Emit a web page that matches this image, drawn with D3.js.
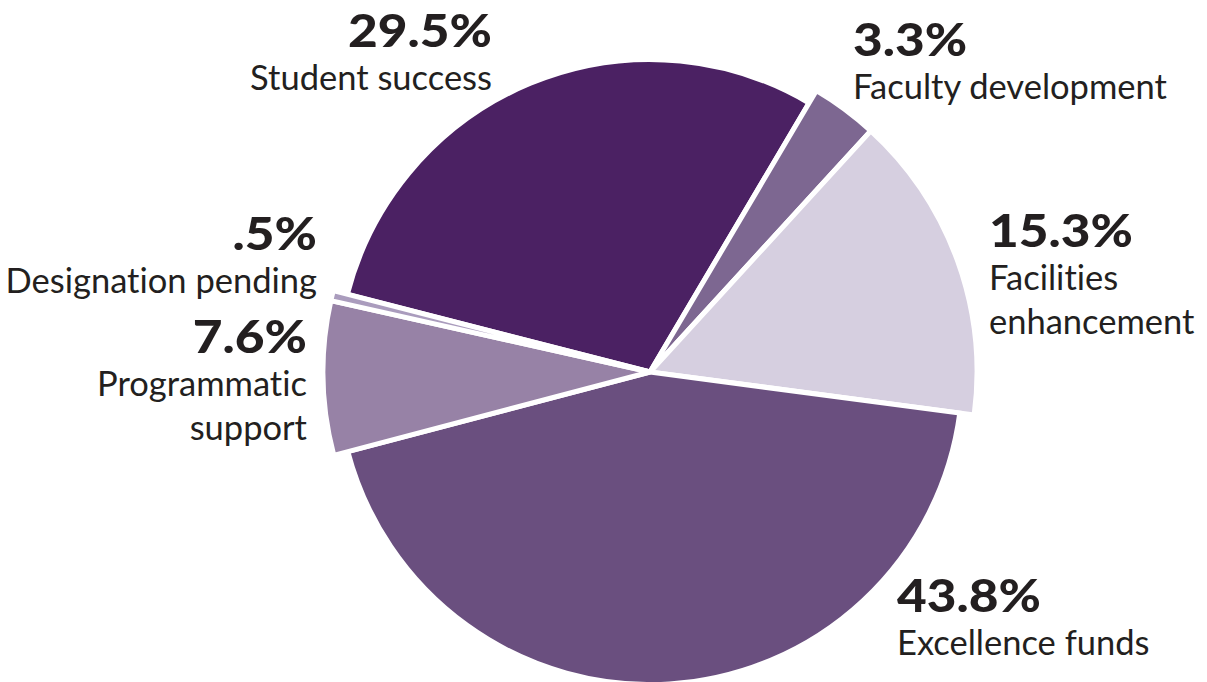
<!DOCTYPE html>
<html>
<head>
<meta charset="utf-8">
<script src="https://cdn.jsdelivr.net/npm/d3@7"></script>
<style>
  html, body { margin: 0; padding: 0; background: #ffffff; }
  svg { display: block; }
  text { font-variant-ligatures: none; font-feature-settings: "liga" 0; }
  .pct { font-family: Lato, "Open Sans", sans-serif; font-weight: 900; fill: #231f20; }
  .lbl { font-family: Lato, "Open Sans", sans-serif; font-weight: 400; fill: #231f20; }
</style>
</head>
<body>
<svg id="chart" width="1207" height="682"></svg>
<script>
// Share of gifts by designation, clockwise from the left edge of "Student success"
const categories = ["Student success", "Faculty development", "Facilities enhancement",
                    "Excellence funds", "Programmatic support", "Designation pending"];
const values = [29.5, 3.3, 15.3, 43.8, 7.6, 0.5];
const valueLabels = ["29.5%", "3.3%", "15.3%", "43.8%", "7.6%", ".5%"];
const nameLines = [["Student success"], ["Faculty development"], ["Facilities", "enhancement"],
                   ["Excellence funds"], ["Programmatic", "support"], ["Designation pending"]];
const colors = ["#4b2163", "#7d6791", "#d6cfe0", "#6a4f7f", "#9782a6", "#aa9cbd"];

const svg = d3.select("#chart");
const cx = 650, cy = 372;
const rLarge = 312.5, rSmall = 327;

const startDeg = -75.6;
const pie = d3.pie()
  .sort(null)
  .value(d => d)
  .startAngle(startDeg * Math.PI / 180)
  .endAngle(startDeg * Math.PI / 180 + 2 * Math.PI);

const arcs = pie(values);
const arc = d3.arc()
  .innerRadius(0)
  .outerRadius(d => d.data > 25 ? rLarge : rSmall);

const g = svg.append("g").attr("transform", `translate(${cx},${cy})`);
g.selectAll("path")
  .data(arcs)
  .join("path")
  .attr("d", arc)
  .attr("fill", (d, i) => colors[i])
  .attr("stroke", "#ffffff")
  .attr("stroke-width", 5)
  .attr("stroke-linejoin", "miter");

// Label anchors: [x, baseline of percentage, text-anchor]
const labelPos = [
  [492, 47, "end"],
  [853, 56, "start"],
  [989, 247, "start"],
  [897, 612, "start"],
  [307, 353, "end"],
  [317, 250, "end"]
];
const pctWiden = 1.14;

const labels = svg.append("g");
categories.forEach((c, i) => {
  const [x, y, anchor] = labelPos[i];
  labels.append("text")
    .attr("class", "pct")
    .attr("transform", `translate(${x},${y}) scale(${pctWiden},1)`)
    .attr("text-anchor", anchor)
    .attr("font-size", 45)
    .text(valueLabels[i]);
  nameLines[i].forEach((line, j) => {
    labels.append("text")
      .attr("class", "lbl")
      .attr("x", x).attr("y", y + 43 + j * 43.5)
      .attr("text-anchor", anchor)
      .attr("font-size", 34.5)
      .text(line);
  });
});
</script>
</body>
</html>
